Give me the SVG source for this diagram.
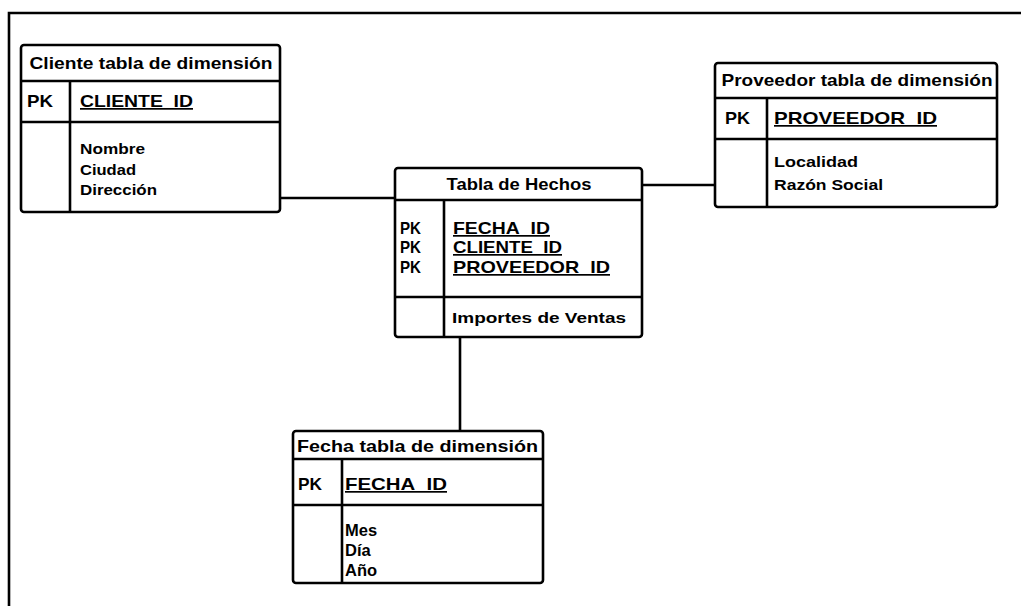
<svg xmlns="http://www.w3.org/2000/svg" width="1021" height="606" viewBox="0 0 1021 606">
<style>
.box{fill:#fff;stroke:#000;stroke-width:2.6}
.ln{stroke:#000;stroke-width:2.6;fill:none}
.conn{stroke:#000;stroke-width:2.6;fill:none}
text{font-family:"Liberation Sans",Arial,sans-serif;font-weight:bold;fill:#000}
.title{font-size:17px;text-anchor:middle}
.pk{font-size:17px}
.key{font-size:17px;text-decoration:underline}
.body{font-size:15.5px}
.body2{font-size:16.5px}
</style>
<rect width="1021" height="606" fill="#fff"/>
<polyline class="ln" points="9,606 9,13 1021,13"/>
<g id="connectors">
<line class="conn" x1="280" y1="198" x2="395" y2="198"/>
<line class="conn" x1="642" y1="185" x2="715" y2="185"/>
<line class="conn" x1="460" y1="337" x2="460" y2="431"/>
</g>
<g id="cliente">
<rect class="box" x="21" y="45" width="259" height="167" rx="3"/>
<line class="ln" x1="21" y1="81" x2="280" y2="81"/>
<line class="ln" x1="21" y1="122" x2="280" y2="122"/>
<line class="ln" x1="70" y1="81" x2="70" y2="212"/>
<text class="title" x="151" y="69" textLength="243" lengthAdjust="spacingAndGlyphs">Cliente tabla de dimensión</text>
<text class="pk" x="27" y="107" textLength="26" lengthAdjust="spacingAndGlyphs">PK</text>
<text class="key" x="80" y="107" textLength="113" lengthAdjust="spacingAndGlyphs">CLIENTE_ID</text>
<text class="body" x="80" y="154" textLength="65" lengthAdjust="spacingAndGlyphs">Nombre</text>
<text class="body" x="80" y="175" textLength="56" lengthAdjust="spacingAndGlyphs">Ciudad</text>
<text class="body" x="80" y="195" textLength="77" lengthAdjust="spacingAndGlyphs">Dirección</text>
</g>
<g id="proveedor">
<rect class="box" x="715" y="63" width="282" height="144" rx="3"/>
<line class="ln" x1="715" y1="98" x2="997" y2="98"/>
<line class="ln" x1="715" y1="139" x2="997" y2="139"/>
<line class="ln" x1="767" y1="98" x2="767" y2="207"/>
<text class="title" x="857" y="86" textLength="271" lengthAdjust="spacingAndGlyphs">Proveedor tabla de dimensión</text>
<text class="pk" x="725" y="124" textLength="25" lengthAdjust="spacingAndGlyphs">PK</text>
<text class="key" x="774" y="124" textLength="163" lengthAdjust="spacingAndGlyphs">PROVEEDOR_ID</text>
<text class="body" x="774" y="167" textLength="84" lengthAdjust="spacingAndGlyphs">Localidad</text>
<text class="body" x="774" y="190" textLength="109" lengthAdjust="spacingAndGlyphs">Razón Social</text>
</g>
<g id="hechos">
<rect class="box" x="395" y="168" width="247" height="169" rx="3"/>
<line class="ln" x1="395" y1="200" x2="642" y2="200"/>
<line class="ln" x1="395" y1="297" x2="642" y2="297"/>
<line class="ln" x1="444" y1="200" x2="444" y2="337"/>
<text class="title" x="519" y="190" textLength="145" lengthAdjust="spacingAndGlyphs">Tabla de Hechos</text>
<text class="pk" x="400" y="234" textLength="21" lengthAdjust="spacingAndGlyphs">PK</text>
<text class="pk" x="400" y="253" textLength="21" lengthAdjust="spacingAndGlyphs">PK</text>
<text class="pk" x="400" y="273" textLength="21" lengthAdjust="spacingAndGlyphs">PK</text>
<text class="key" x="453" y="234" textLength="97" lengthAdjust="spacingAndGlyphs">FECHA_ID</text>
<text class="key" x="453" y="253" textLength="109" lengthAdjust="spacingAndGlyphs">CLIENTE_ID</text>
<text class="key" x="453" y="273" textLength="157" lengthAdjust="spacingAndGlyphs">PROVEEDOR_ID</text>
<text class="body" x="452" y="323" textLength="174" lengthAdjust="spacingAndGlyphs">Importes de Ventas</text>
</g>
<g id="fecha">
<rect class="box" x="293" y="431" width="250" height="152" rx="3"/>
<line class="ln" x1="293" y1="459" x2="543" y2="459"/>
<line class="ln" x1="293" y1="505" x2="543" y2="505"/>
<line class="ln" x1="342" y1="459" x2="342" y2="583"/>
<text class="title" x="417.5" y="452" textLength="241" lengthAdjust="spacingAndGlyphs">Fecha tabla de dimensión</text>
<text class="pk" x="298" y="490" textLength="24" lengthAdjust="spacingAndGlyphs">PK</text>
<text class="key" x="345" y="490" textLength="102" lengthAdjust="spacingAndGlyphs">FECHA_ID</text>
<text class="body2" x="345" y="536">Mes</text>
<text class="body2" x="345" y="556">Día</text>
<text class="body2" x="345" y="576">Año</text>
</g>
</svg>
